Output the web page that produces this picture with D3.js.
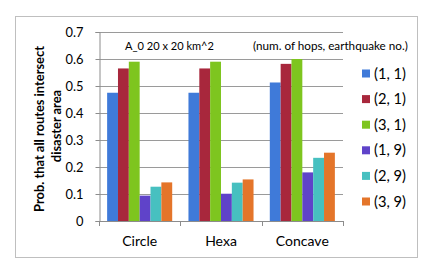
<!DOCTYPE html>
<html><head><meta charset="utf-8">
<script src="https://cdn.jsdelivr.net/npm/d3@7"></script>
<style>body{margin:0;background:#fff;}svg{display:block;font-family:Lato,"Open Sans",sans-serif;}</style>
</head><body><svg id="c" width="436" height="277"></svg>
<script>
const categories = ["Circle", "Hexa", "Concave"];
const seriesNames = ["(1, 1)", "(2, 1)", "(3, 1)", "(1, 9)", "(2, 9)", "(3, 9)"];
const s11 = [0.475, 0.475, 0.513];
const s21 = [0.565, 0.565, 0.582];
const s31 = [0.590, 0.590, 0.600];
const s19 = [0.094, 0.101, 0.180];
const s29 = [0.127, 0.142, 0.234];
const s39 = [0.143, 0.154, 0.253];
const yTicks = [0, 0.1, 0.2, 0.3, 0.4, 0.5, 0.6, 0.7];
const colors = ["#3f7ad9", "#a8273c", "#7ec51f", "#5f43c9", "#47c0c0", "#e4752a"];
const series = [s11, s21, s31, s19, s29, s39];

function fit(sel, target, base) {
  sel.attr("font-size", base);
  const w = sel.node().getComputedTextLength();
  sel.attr("font-size", base * target / w);
}

const svg = d3.select("#c");
svg.append("rect").attr("x", 15.5).attr("y", 16.5).attr("width", 402).attr("height", 241)
  .attr("fill", "#fff").attr("stroke", "#bfbfbf");

const x0 = d3.scaleBand().domain(categories).range([99, 343]).paddingInner(0.2).paddingOuter(0.1);
const x1 = d3.scaleBand().domain(seriesNames).range([0, x0.bandwidth()]);
const y = d3.scaleLinear().domain([0, 0.7]).range([221, 32]);

// gridlines
svg.append("g").selectAll("line").data(yTicks.slice(1)).join("line")
  .attr("x1", 99).attr("x2", 343).attr("y1", d => Math.round(y(d)) + 0.5).attr("y2", d => Math.round(y(d)) + 0.5)
  .attr("stroke", "#9a9a9a").attr("stroke-width", 1);

// y axis
const ya = svg.append("g").attr("transform", "translate(99.5,0)")
  .call(d3.axisLeft(y).tickValues(yTicks).tickFormat(d => d === 0 ? "0" : d3.format(".1f")(d)).tickSize(4).tickPadding(12));
ya.selectAll("path,line").attr("stroke", "#8c8c8c");
ya.selectAll("text").attr("fill", "#000").attr("font-family", "Lato,sans-serif");
ya.selectAll("text").each(function(d){ if (d === 0.7) fit(d3.select(this), 18, 15); });
const tickSize = ya.selectAll("text").filter(d => d === 0.7).attr("font-size");
ya.selectAll("text").attr("font-size", tickSize);

// bars
const g = svg.append("g");
categories.forEach((c, i) => {
  series.forEach((s, j) => {
    g.append("rect")
      .attr("x", x0(c) + x1(seriesNames[j]))
      .attr("y", y(s[i]))
      .attr("width", x1.bandwidth())
      .attr("height", y(0) - y(s[i]))
      .attr("fill", colors[j]);
  });
});

// x axis
const xb = d3.scaleBand().domain(categories).range([99, 343]);
const xa = svg.append("g").attr("transform", "translate(0,221.5)")
  .call(d3.axisBottom(xb).tickSize(0).tickPadding(15));
xa.select("path").attr("stroke", "#8c8c8c").attr("d", "M99.5,0H343.5");
xa.selectAll("text").attr("fill", "#000").attr("font-family", "Lato,sans-serif");
const concaveT = xa.selectAll("text").filter(d => d === "Concave");
fit(concaveT, 53, 14);
xa.selectAll("text").attr("font-size", concaveT.attr("font-size"));
svg.append("g").selectAll("line").data([99.5, 180.5, 262.5, 343.5]).join("line")
  .attr("x1", d => d).attr("x2", d => d).attr("y1", 221).attr("y2", 226).attr("stroke", "#8c8c8c");

// y label
const yl1 = svg.append("text").attr("transform", "translate(0,129) rotate(-90)")
  .attr("text-anchor", "middle").attr("font-weight", "bold").attr("x", 0).attr("y", 44)
  .text("Prob. that all routes intersect");
fit(yl1, 166, 12);
const yl2 = svg.append("text").attr("transform", "translate(0,126) rotate(-90)")
  .attr("text-anchor", "middle").attr("font-weight", "bold").attr("x", 0).attr("y", 60.5)
  .attr("font-size", yl1.attr("font-size")).text("disaster area");

// annotation
const a1 = svg.append("text").attr("x", 125).attr("y", 50).text("A_0 20 x 20 km^2");
fit(a1, 89, 12);
const a2 = svg.append("text").attr("x", 253).attr("y", 50).text("(num. of hops, earthquake no.)");
fit(a2, 155, 12);

// legend
const lg = svg.append("g");
let legSize = null;
seriesNames.forEach((n, j) => {
  const cy = 73.5 + j * 25.6;
  lg.append("rect").attr("x", 362).attr("y", cy - 4).attr("width", 8).attr("height", 8).attr("fill", colors[j]);
  const t = lg.append("text").attr("x", 374).attr("y", cy + 5).text(n);
  if (legSize === null) { fit(t, 32, 14); legSize = t.attr("font-size"); }
  t.attr("font-size", legSize);
});
</script></body></html>
